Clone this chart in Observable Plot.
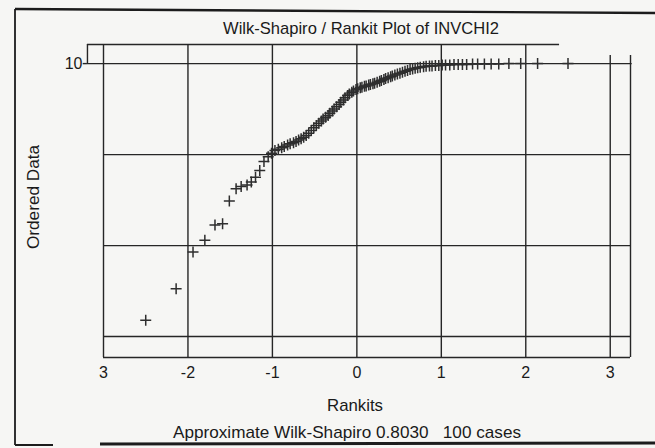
<!DOCTYPE html>
<html>
<head>
<meta charset="utf-8">
<script src="https://cdn.jsdelivr.net/npm/d3@7"></script>
<script src="https://cdn.jsdelivr.net/npm/@observablehq/plot@0.6"></script>
<style>
  html, body { margin: 0; padding: 0; background: #f6f6f4; }
  #chart { position: relative; width: 655px; height: 448px; }
  svg { display: block; }
</style>
</head>
<body>
<div id="chart"></div>
<script>
// Rankits (x) for the 100 ordered cases
const rankits = [
  -2.50, -2.14, -1.94, -1.80, -1.68, -1.59, -1.51, -1.43, -1.37, -1.30,
  -1.25, -1.20, -1.15, -1.10, -1.05, -1.01, -0.97, -0.93, -0.89, -0.86,
  -0.82, -0.79, -0.75, -0.72, -0.69, -0.66, -0.63, -0.60, -0.57, -0.54,
  -0.51, -0.48, -0.45, -0.42, -0.40, -0.37, -0.34, -0.32, -0.29, -0.27,
  -0.24, -0.21, -0.19, -0.16, -0.14, -0.11, -0.09, -0.06, -0.04, -0.01,
   0.01,  0.04,  0.06,  0.09,  0.11,  0.14,  0.16,  0.19,  0.21,  0.24,
   0.27,  0.29,  0.32,  0.34,  0.37,  0.40,  0.42,  0.45,  0.48,  0.51,
   0.54,  0.57,  0.60,  0.63,  0.66,  0.69,  0.72,  0.75,  0.79,  0.82,
   0.86,  0.89,  0.93,  0.97,  1.01,  1.05,  1.10,  1.15,  1.20,  1.25,
   1.30,  1.37,  1.43,  1.51,  1.59,  1.68,  1.80,  1.94,  2.14,  2.50
];
// Ordered data values (y)
const ordered = [
  4.36, 5.05, 5.86, 6.12, 6.45, 6.48, 6.98, 7.25, 7.30, 7.33,
  7.40, 7.50, 7.65, 7.85, 7.95, 8.03, 8.09, 8.12, 8.15, 8.18,
  8.21, 8.24, 8.26, 8.29, 8.32, 8.35, 8.38, 8.42, 8.47, 8.53,
  8.59, 8.64, 8.69, 8.74, 8.78, 8.82, 8.86, 8.91, 8.96, 9.00,
  9.05, 9.10, 9.15, 9.20, 9.25, 9.30, 9.33, 9.37, 9.40, 9.43,
  9.45, 9.47, 9.48, 9.50, 9.51, 9.53, 9.54, 9.56, 9.57, 9.59,
  9.61, 9.63, 9.65, 9.67, 9.69, 9.71, 9.73, 9.75, 9.77, 9.79,
  9.81, 9.83, 9.85, 9.87, 9.88, 9.90, 9.91, 9.92, 9.93, 9.94,
  9.95, 9.95, 9.96, 9.96, 9.97, 9.97, 9.97, 9.98, 9.98, 9.98,
  9.98, 9.99, 9.99, 9.99, 9.99, 9.99, 10.00, 10.00, 10.00, 10.00
];
const xTicks = [-3, -2, -1, 0, 1, 2, 3];
const xTickLabels = ["3", "-2", "-1", "0", "1", "2", "3"];
const yGrid = [8, 6, 4];
const yTicks = [10];
const yTickLabels = ["10"];

const titleText = "Wilk-Shapiro / Rankit Plot of INVCHI2";
const xLabel = "Rankits";
const yLabel = "Ordered Data";
const captionText = "Approximate Wilk-Shapiro 0.8030\u00a0\u00a0\u00a0100 cases";

const pts = rankits.map((r, i) => ({r, v: ordered[i]}));

const xMin = -3, xMax = 3.24, yMin = 3.54, yMax = 10.42;
const ink = "#262626";
const fontStack = "'Liberation Sans', Arial, sans-serif";

const plusSymbol = {
  draw(context, size) {
    const r = Math.sqrt(size / Math.PI);
    context.moveTo(-r, 0); context.lineTo(r, 0);
    context.moveTo(0, -r); context.lineTo(0, r);
  }
};

const chart = Plot.plot({
  width: 655,
  height: 448,
  marginLeft: 103,
  marginRight: 25,
  marginTop: 44,
  marginBottom: 91,
  style: {background: "transparent", fontFamily: fontStack},
  x: {domain: [xMin, xMax], axis: null},
  y: {domain: [yMin, yMax], axis: null},
  marks: [
    // horizontal grid lines
    Plot.ruleY(yGrid, {x1: xMin, x2: xMax, stroke: ink, strokeWidth: 1.4}),
    // 10 line, extending left to the small box
    Plot.ruleY(yTicks, {x1: -3.19, x2: 3.26, stroke: ink, strokeWidth: 1.4}),
    // tick for 10
    Plot.ruleY(yTicks, {x1: -3.24, x2: -3.19, stroke: ink, strokeWidth: 1.4}),
    // bottom frame
    Plot.ruleY([yMin], {x1: xMin, x2: xMax, stroke: ink, strokeWidth: 1.6}),
    // top box line
    Plot.ruleY([yMax], {x1: -3.19, x2: 2.4, stroke: ink, strokeWidth: 1.4}),
    Plot.ruleX([-3.19], {y1: 10, y2: yMax, stroke: ink, strokeWidth: 1.4}),
    // vertical grid lines
    Plot.ruleX(xTicks.filter(d => d < 3), {y1: yMin, y2: yMax, stroke: ink, strokeWidth: 1.4}),
    Plot.ruleX([3, xMax], {y1: yMin, y2: 10.18, stroke: ink, strokeWidth: 1.4}),
    // x tick labels
    Plot.text(xTicks, {x: d => d, y: yMin, dy: 15, text: (d, i) => xTickLabels[i],
      fontSize: 16, fill: "#1a1a1a"}),
    // y tick label
    Plot.text(yTicks, {x: xMin, y: d => d, dx: -21, text: (d, i) => yTickLabels[i],
      textAnchor: "end", fontSize: 16, fill: "#1a1a1a"}),
    // data points
    Plot.dot(pts, {x: "r", y: "v", symbol: plusSymbol, r: 5.5, stroke: "#2e2e2e",
      strokeWidth: 1.5, fill: "none"}),
  ]
});
document.getElementById("chart").appendChild(chart);

const svg = d3.select(chart);
// outer frame (scanned page border)
const frame = svg.append("g").attr("stroke", "#1c1c1c").attr("fill", "none");
frame.append("line").attr("x1", 15).attr("y1", 9).attr("x2", 655).attr("y2", 13).attr("stroke-width", 2.4);
frame.append("line").attr("x1", 15).attr("y1", 9).attr("x2", 15).attr("y2", 445).attr("stroke-width", 1.8);
frame.append("line").attr("x1", 15).attr("y1", 445).attr("x2", 53).attr("y2", 445).attr("stroke-width", 1.8);
frame.append("line").attr("x1", 100).attr("y1", 444).attr("x2", 655).attr("y2", 443).attr("stroke-width", 3);

const txt = svg.append("g").attr("fill", "#1a1a1a")
  .attr("font-family", fontStack).attr("font-size", 17);
txt.append("text").attr("x", 361).attr("y", 34).attr("text-anchor", "middle")
  .attr("textLength", 276).attr("lengthAdjust", "spacingAndGlyphs").text(titleText);
txt.append("text").attr("x", 355).attr("y", 411).attr("text-anchor", "middle")
  .attr("textLength", 56).attr("lengthAdjust", "spacingAndGlyphs").text(xLabel);
txt.append("text").attr("x", 347).attr("y", 438).attr("text-anchor", "middle")
  .attr("textLength", 348).attr("lengthAdjust", "spacingAndGlyphs").text(captionText);
txt.append("text").attr("transform", "translate(39,197) rotate(-90)").attr("text-anchor", "middle")
  .attr("textLength", 104).attr("lengthAdjust", "spacingAndGlyphs").text(yLabel);
</script>
</body>
</html>
